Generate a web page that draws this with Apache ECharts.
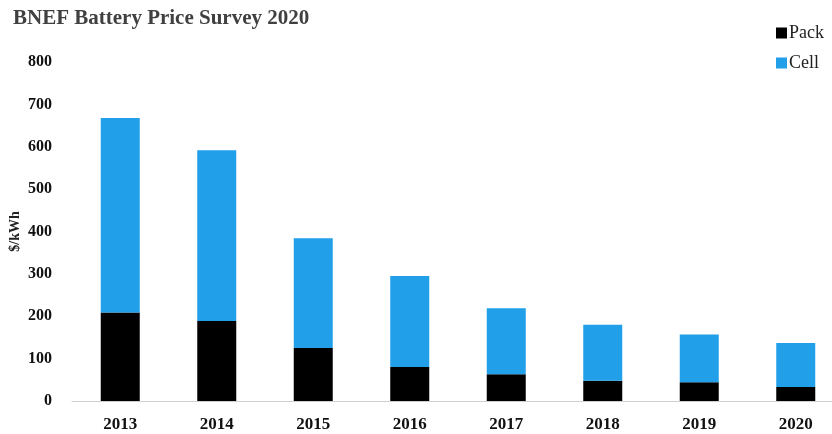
<!DOCTYPE html>
<html>
<head>
<meta charset="utf-8">
<script src="https://cdn.jsdelivr.net/npm/echarts@6/dist/echarts.min.js"></script>
<style>
  html, body { margin: 0; padding: 0; background: #fff; overflow: hidden; }
  /* plot area runs past the right edge in the original, so the canvas is a bit wider than the window */
  #main { width: 860px; height: 434px; }
</style>
</head>
<body>
<div id="main"></div>
<script>
  var years = ['2013', '2014', '2015', '2016', '2017', '2018', '2019', '2020']
  // bottom (black) segment
  var pack = [209, 189, 125, 80, 63, 48, 44, 33]
  // top (blue) segment
  var cell = [459, 403, 259, 215, 156, 132, 113, 104]

  var serif = '"Liberation Serif", "DejaVu Serif", serif'
  var chart = echarts.init(document.getElementById('main'))

  var option = {
    animation: false,
    title: {
      text: 'BNEF Battery Price Survey 2020',
      left: 8,
      top: 3,
      textStyle: {
        fontFamily: serif,
        fontWeight: 'bold',
        fontSize: 21,
        color: '#404040'
      }
    },
    legend: {
      orient: 'vertical',
      left: 771,
      top: 19,
      itemWidth: 11,
      itemHeight: 11,
      itemGap: 12,
      icon: 'rect',
      data: ['Pack', 'Cell'],
      textStyle: {
        fontFamily: serif,
        fontSize: 18,
        color: '#222',
        padding: [0, 0, 0, -3]
      }
    },
    grid: {
      left: 72,
      top: 62,
      width: 772,
      height: 339,
      containLabel: false,
      outerBoundsMode: 'none'
    },
    xAxis: {
      type: 'category',
      data: years,
      axisLine: { lineStyle: { color: '#d0d0d0', width: 1 } },
      axisTick: { show: false },
      axisLabel: {
        margin: 15,
        fontFamily: serif,
        fontWeight: 'bold',
        fontSize: 17,
        color: '#111'
      }
    },
    yAxis: {
      type: 'value',
      min: 0,
      max: 800,
      interval: 100,
      name: '$/kWh',
      nameLocation: 'middle',
      nameRotate: 90,
      nameGap: 50,
      nameMoveOverlap: false,
      nameTextStyle: {
        fontFamily: serif,
        fontWeight: 'bold',
        fontSize: 14,
        color: '#222'
      },
      axisLine: { show: false },
      axisTick: { show: false },
      splitLine: { show: false },
      axisLabel: {
        margin: 20,
        fontFamily: serif,
        fontWeight: 'bold',
        fontSize: 16,
        color: '#111'
      }
    },
    series: [
      {
        name: 'Pack',
        type: 'bar',
        stack: 'total',
        barWidth: 39,
        itemStyle: { color: '#000000' },
        data: pack
      },
      {
        name: 'Cell',
        type: 'bar',
        stack: 'total',
        barWidth: 39,
        itemStyle: { color: '#219fe9' },
        data: cell
      }
    ]
  }
  chart.setOption(option)
</script>
</body>
</html>
